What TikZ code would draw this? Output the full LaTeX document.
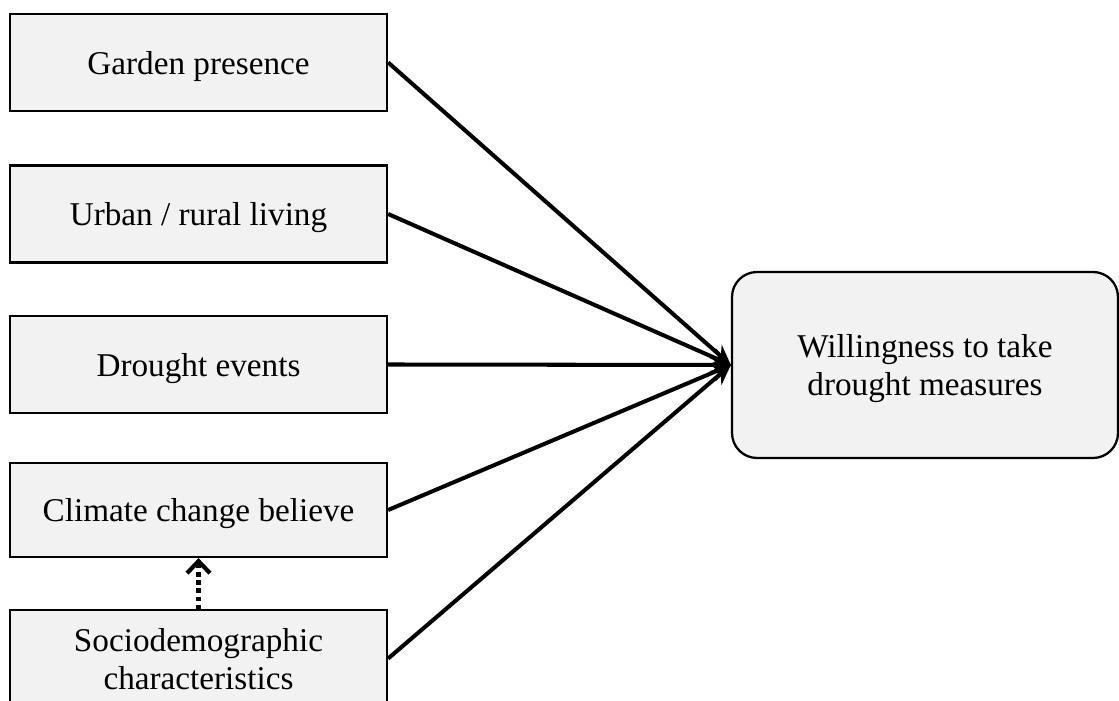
\documentclass[tikz,border=0pt]{standalone}
\usepackage{fontspec}
\setmainfont{Liberation Serif}
\usepackage{tikz}
\usetikzlibrary{positioning, arrows.meta}
\tikzset{
  box/.style    ={draw, line width=1.3pt, fill=gray!10, align=center, inner sep=2pt,
                  minimum width=7.54cm, minimum height=1.94cm, text depth=0pt,
                  font=\fontsize{18.9}{21.6}\selectfont},
  goal/.style   ={box, rounded corners=0.5cm, minimum width=7.72cm, minimum height=3.72cm},
  flow/.style   ={-{Stealth[length=4mm, width=3.6mm]}, line width=2.3pt},
  flowdot/.style={-{Straight Barb[length=2.4mm, width=4.6mm]}, line width=2.4pt,
                  dash pattern=on 2.4pt off 2.2pt},
}
\begin{document}
\begin{tikzpicture}
  \clip (0,0) rectangle (22.38,14);
  \node[box]  (GP) at (3.97,12.75) {Garden presence};
  \node[box]  (UR) at (3.97,9.72)  {Urban / rural living};
  \node[box]  (DE) at (3.97,6.71)  {Drought events};
  \node[box, minimum height=1.88cm] (CC) at (3.97,3.80) {Climate change believe};
  \node[box]  (SD) at (3.97,0.83)  {Sociodemographic\\ characteristics};
  \node[goal] (WM) at (18.50,6.70) {Willingness to take\\ drought measures};
  % paths into the outcome
  \draw[flow] (GP.east) -- (WM.west);
  \draw[flow] (UR.east) -- (WM.west);
  \draw[flow] (DE.east) -- (WM.west);
  \draw[flow] (CC.east) -- (WM.west);
  \draw[flow] (SD.east) -- (WM.west);
  \draw[flowdot] (SD.north) -- (CC.south);
\end{tikzpicture}
\end{document}
